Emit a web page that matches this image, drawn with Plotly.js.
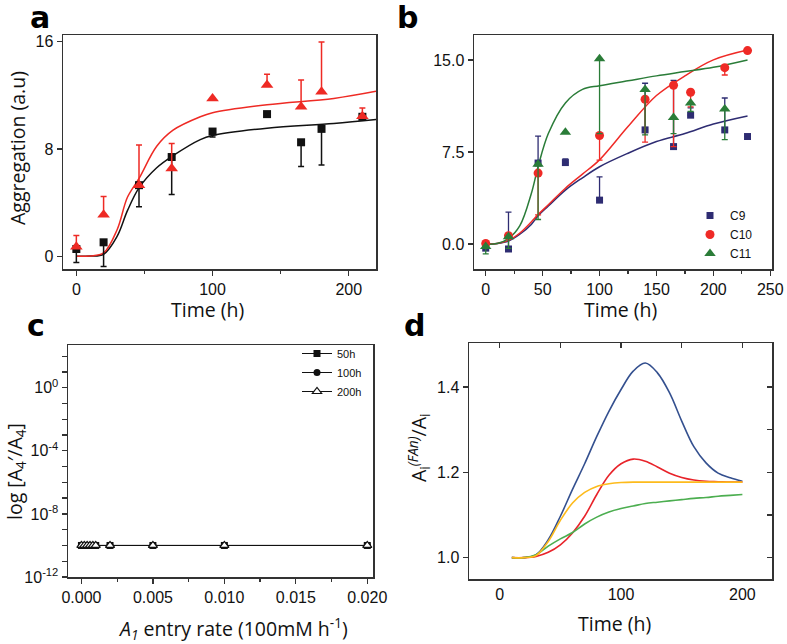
<!DOCTYPE html>
<html>
<head>
<meta charset="utf-8">
<script src="https://cdn.plot.ly/plotly-3.0.1.min.js"></script>
<style>html,body{margin:0;padding:0;background:#fff;}#chart{width:787px;height:644px;}</style>
</head>
<body>
<div id="chart"></div>
<script>
// ---------- Panel a ----------
const aTime = [0, 20, 46, 70, 100, 140, 165, 180, 210];
const aBlack = [0.54, 1.04, 5.3, 7.4, 9.3, 10.6, 8.5, 9.5, 10.4];
const aBlackErr = [1.0, 1.8, 1.6, 2.8, 0.4, 0, 1.8, 2.7, 0.2];
const aRed = [0.7, 3.1, 5.3, 6.55, 11.77, 12.77, 11.15, 12.27, 10.45];
const aRedErr = [0.85, 1.35, 3.0, 1.85, 0, 0.8, 2.0, 3.7, 0.6];
const aFitTime = [0, 10, 20, 30, 37.5, 46, 59, 71, 91, 100, 140, 189, 220];
const aFitBlack = [0, 0.02, 0.15, 1.5, 3.4, 5.1, 6.6, 7.5, 8.7, 9.0, 9.55, 9.9, 10.2];
const aFitRed = [0, 0.02, 0.25, 2.0, 4.4, 5.8, 8.2, 9.4, 10.4, 10.7, 11.3, 11.77, 12.3];

// ---------- Panel b ----------
const bTime9 = [0, 20, 46, 70, 100, 140, 165, 180, 210, 230];
const bC9 = [-0.33, -0.4, 6.6, 6.64, 3.58, 9.3, 7.94, 10.5, 9.3, 8.76];
const bC9Err = [0.3, 3.0, 2.2, 0.3, 1.9, 3.8, 5.4, 0.6, 2.6, 0];
const bTime10 = [0, 20, 46, 100, 140, 165, 180, 210, 230];
const bC10 = [0.05, 0.68, 5.78, 8.84, 11.8, 12.94, 12.37, 14.37, 15.76];
const bC10Err = [0, 0, 3.4, 2.0, 3.5, 5.0, 1.2, 0.6, 0];
const bTime11 = [0, 20, 46, 70, 100, 140, 165, 180, 210];
const bC11 = [-0.2, 0.6, 6.5, 9.1, 15.1, 12.6, 10.3, 11.5, 11.0];
const bC11Err = [0.6, 0.95, 4.5, 0, 6.1, 3.7, 1.3, 0.7, 2.5];
const bFitTime = [0, 10, 20, 30, 40, 46, 55, 70, 85, 100, 125, 150, 175, 200, 230];
const bFitC9 = [0, 0.05, 0.25, 0.8, 1.6, 2.3, 3.1, 4.4, 5.4, 6.3, 7.4, 8.35, 9.0, 9.78, 10.44];
const bFitC10 = [0, 0.05, 0.3, 0.9, 1.8, 2.4, 3.2, 4.55, 5.7, 6.86, 9.57, 12.1, 13.7, 15.0, 15.8];
const bFitC11 = [0, 0.05, 0.45, 1.5, 4.1, 6.3, 9.0, 11.5, 12.6, 12.9, 13.3, 13.7, 14.05, 14.4, 15.0];
const bNames = ['C9', 'C10', 'C11'];

// ---------- Panel c ----------
const cRate = [0, 0.0002, 0.0004, 0.0006, 0.0008, 0.001, 0.002, 0.005, 0.01, 0.02];
const c50h = [1e-10, 1e-10, 1e-10, 1e-10, 1e-10, 1e-10, 1e-10, 1e-10, 1e-10, 1e-10];
const c100h = [1e-10, 1e-10, 1e-10, 1e-10, 1e-10, 1e-10, 1e-10, 1e-10, 1e-10, 1e-10];
const c200h = [1e-10, 1e-10, 1e-10, 1e-10, 1e-10, 1e-10, 1e-10, 1e-10, 1e-10, 1e-10];
const cNames = ['50h', '100h', '200h'];
const cTickVals = [1e-12, 1e-8, 1e-4, 1];
const cTickText = ['10<sup>-12</sup>', '10<sup>-8</sup>', '10<sup>-4</sup>', '10<sup>0</sup>'];
const cMinorVals = [1e-11, 1e-10, 1e-9, 1e-7, 1e-6, 1e-5, 1e-3, 1e-2, 1e-1, 10, 100];
const cXTicks = [0, 0.005, 0.01, 0.015, 0.02];
const cXText = ['0.000', '0.005', '0.010', '0.015', '0.020'];

// ---------- Panel d ----------
const dTime = [10, 20, 30, 40, 50, 60, 70, 80, 90, 100, 110, 120, 130, 140, 150, 160, 170, 180, 190, 200];
const dBlue = [1.0, 1.0, 1.007, 1.042, 1.097, 1.16, 1.22, 1.284, 1.343, 1.394, 1.437, 1.456, 1.433, 1.386, 1.32, 1.26, 1.222, 1.198, 1.187, 1.179];
const dRed = [1.0, 1.0, 1.003, 1.0125, 1.03, 1.058, 1.097, 1.148, 1.193, 1.22, 1.231, 1.226, 1.2125, 1.198, 1.188, 1.182, 1.179, 1.178, 1.177, 1.177];
const dYellow = [1.0, 1.0, 1.005, 1.038, 1.0875, 1.128, 1.153, 1.167, 1.173, 1.176, 1.177, 1.177, 1.177, 1.177, 1.177, 1.177, 1.177, 1.177, 1.177, 1.177];
const dGreen = [1.0, 1.0, 1.007, 1.027, 1.044, 1.059, 1.079, 1.095, 1.107, 1.115, 1.121, 1.127, 1.130, 1.133, 1.136, 1.139, 1.141, 1.144, 1.146, 1.148];

const W = 787, H = 644;
const px = v => v / W;
const py = v => 1 - v / H;
const zeros = n => new Array(n).fill(0);

const TICKFONT = {family: 'Liberation Sans, Arial, sans-serif', size: 16, color: '#111'};
const TITLEFONT = {family: 'Open Sans, sans-serif', size: 19.5, color: '#111'};
const LETTERFONT = {family: 'DejaVu Sans, sans-serif', size: 30, color: '#000'};
const FRAME = '#333';

const traces = [];
// Panel a
traces.push({x: aFitTime, y: aFitBlack, xaxis: 'x', yaxis: 'y', mode: 'lines', line: {color: '#111', width: 1.5, shape: 'spline'}, showlegend: false, hoverinfo: 'skip'});
traces.push({x: aFitTime, y: aFitRed, xaxis: 'x', yaxis: 'y', mode: 'lines', line: {color: '#ee2a24', width: 1.5, shape: 'spline'}, showlegend: false, hoverinfo: 'skip'});
traces.push({x: aTime, y: aBlack, xaxis: 'x', yaxis: 'y', mode: 'markers', marker: {symbol: 'square', size: 8, color: '#111'},
  error_y: {type: 'data', symmetric: false, array: zeros(aTime.length), arrayminus: aBlackErr, color: '#111', thickness: 1.5, width: 3}, showlegend: false});
traces.push({x: aTime, y: aRed, xaxis: 'x', yaxis: 'y', mode: 'markers', marker: {symbol: 'triangle-up', size: 11, color: '#ee2a24'},
  error_y: {type: 'data', symmetric: false, array: aRedErr, arrayminus: zeros(aTime.length), color: '#ee2a24', thickness: 1.5, width: 3}, showlegend: false});

// Panel b
const bCols = ['#2e2c72', '#ef2a26', '#2a7c38'];
traces.push({x: bFitTime, y: bFitC9, xaxis: 'x2', yaxis: 'y2', mode: 'lines', line: {color: bCols[0], width: 1.5, shape: 'spline'}, showlegend: false, hoverinfo: 'skip'});
traces.push({x: bFitTime, y: bFitC10, xaxis: 'x2', yaxis: 'y2', mode: 'lines', line: {color: bCols[1], width: 1.5, shape: 'spline'}, showlegend: false, hoverinfo: 'skip'});
traces.push({x: bFitTime, y: bFitC11, xaxis: 'x2', yaxis: 'y2', mode: 'lines', line: {color: bCols[2], width: 1.5, shape: 'spline'}, showlegend: false, hoverinfo: 'skip'});
traces.push({x: bTime9, y: bC9, name: bNames[0], xaxis: 'x2', yaxis: 'y2', mode: 'markers', marker: {symbol: 'square', size: 7, color: bCols[0]},
  error_y: {type: 'data', symmetric: false, array: bC9Err, arrayminus: zeros(bTime9.length), color: bCols[0], thickness: 1.3, width: 3}, legend: 'legend'});
traces.push({x: bTime10, y: bC10, name: bNames[1], xaxis: 'x2', yaxis: 'y2', mode: 'markers', marker: {symbol: 'circle', size: 9, color: bCols[1]},
  error_y: {type: 'data', symmetric: false, array: zeros(bTime10.length), arrayminus: bC10Err, color: bCols[1], thickness: 1.3, width: 3}, legend: 'legend'});
traces.push({x: bTime11, y: bC11, name: bNames[2], xaxis: 'x2', yaxis: 'y2', mode: 'markers', marker: {symbol: 'triangle-up', size: 10, color: bCols[2]},
  error_y: {type: 'data', symmetric: false, array: zeros(bTime11.length), arrayminus: bC11Err, color: bCols[2], thickness: 1.3, width: 3}, legend: 'legend'});

// Panel c
traces.push({x: cRate, y: c50h, name: cNames[0], xaxis: 'x3', yaxis: 'y3', mode: 'lines+markers', line: {color: '#111', width: 1}, marker: {symbol: 'square', size: 7, color: '#111'}, legend: 'legend2'});
traces.push({x: cRate, y: c100h, name: cNames[1], xaxis: 'x3', yaxis: 'y3', mode: 'lines+markers', line: {color: '#111', width: 1}, marker: {symbol: 'circle', size: 7, color: '#111'}, legend: 'legend2'});
traces.push({x: cRate, y: c200h, name: cNames[2], xaxis: 'x3', yaxis: 'y3', mode: 'lines+markers', line: {color: '#111', width: 1}, marker: {symbol: 'triangle-up', size: 8, color: '#fff', line: {color: '#111', width: 1.2}}, legend: 'legend2'});

// Panel d
traces.push({x: dTime, y: dBlue, xaxis: 'x4', yaxis: 'y4', mode: 'lines', line: {color: '#34508f', width: 1.6, shape: 'spline'}, showlegend: false});
traces.push({x: dTime, y: dRed, xaxis: 'x4', yaxis: 'y4', mode: 'lines', line: {color: '#e8232a', width: 1.6, shape: 'spline'}, showlegend: false});
traces.push({x: dTime, y: dGreen, xaxis: 'x4', yaxis: 'y4', mode: 'lines', line: {color: '#4cae50', width: 1.6, shape: 'spline'}, showlegend: false});
traces.push({x: dTime, y: dYellow, xaxis: 'x4', yaxis: 'y4', mode: 'lines', line: {color: '#fdbb1c', width: 1.6, shape: 'spline'}, showlegend: false});
// empty traces to activate mirror-tick overlay axes of panel d
traces.push({x: [], y: [], xaxis: 'x5', yaxis: 'y4', mode: 'lines', showlegend: false, hoverinfo: 'skip'});
traces.push({x: [], y: [], xaxis: 'x4', yaxis: 'y5', mode: 'lines', showlegend: false, hoverinfo: 'skip'});

const baseAx = {showline: true, linecolor: FRAME, linewidth: 1.5, mirror: true, showgrid: false, zeroline: false,
  ticks: 'outside', ticklen: 5, tickwidth: 1.3, tickcolor: FRAME, tickfont: TICKFONT, fixedrange: true};

const letter = (t, x, yBottom) => ({text: '<b>' + t + '</b>', x: px(x), y: py(yBottom), xref: 'paper', yref: 'paper',
  xanchor: 'left', yanchor: 'bottom', borderpad: 0, showarrow: false, font: LETTERFONT});

const layout = {
  width: W, height: H,
  margin: {l: 0, r: 0, t: 0, b: 0},
  paper_bgcolor: '#fff', plot_bgcolor: '#fff',
  showlegend: true,
  // Panel a
  xaxis: Object.assign({}, baseAx, {domain: [px(63), px(376)], anchor: 'y', range: [-9.8, 220], tickmode: 'array', tickvals: [0, 100, 200],
    minor: {tickvals: [50, 150], ticks: 'outside', ticklen: 3, tickcolor: FRAME}}),
  yaxis: Object.assign({}, baseAx, {domain: [py(269), py(35)], anchor: 'x', range: [-0.95, 16.5], tickmode: 'array', tickvals: [0, 8, 16]}),
  // Panel b
  xaxis2: Object.assign({}, baseAx, {domain: [px(474), px(772)], anchor: 'y2', range: [-10.3, 251.5], tickmode: 'array', tickvals: [0, 50, 100, 150, 200, 250],
    minor: {tickvals: [25, 75, 125, 175, 225], ticks: 'outside', ticklen: 3, tickcolor: FRAME}}),
  yaxis2: Object.assign({}, baseAx, {domain: [py(269), py(35)], anchor: 'x2', range: [-2.03, 17.03], tickmode: 'array', tickvals: [0, 7.5, 15], ticktext: ['0.0', '7.5', '15.0']}),
  // Panel c
  xaxis3: Object.assign({}, baseAx, {domain: [px(68), px(373)], anchor: 'y3', range: [-0.00094, 0.0204], tickmode: 'array', tickvals: cXTicks, ticktext: cXText,
    minor: {tickvals: [0.0025, 0.0075, 0.0125, 0.0175], ticks: 'outside', ticklen: 3, tickcolor: FRAME}}),
  yaxis3: Object.assign({}, baseAx, {domain: [py(577), py(345)], anchor: 'x3', type: 'log', range: [-12, 2.71], tickmode: 'array', tickvals: cTickVals, ticktext: cTickText, ticklen: 5,
    minor: {tickvals: cMinorVals, ticks: 'outside', ticklen: 5, tickwidth: 1.3, tickcolor: FRAME}}),
  // Panel d
  xaxis4: Object.assign({}, baseAx, {domain: [px(469), px(772)], anchor: 'y4', range: [-25.3, 224.4], tickmode: 'array', tickvals: [0, 100, 200], ticks: ''}),
  yaxis4: Object.assign({}, baseAx, {domain: [py(579), py(343)], anchor: 'x4', range: [0.95, 1.503], tickmode: 'array', tickvals: [1.0, 1.2, 1.4], ticktext: ['1.0', '1.2', '1.4']}),
  xaxis5: {overlaying: 'x4', anchor: 'y4', side: 'top', range: [-25.3, 224.4], tickmode: 'array', tickvals: [0, 50, 100, 150, 200], ticks: 'inside', ticklen: 5, tickwidth: 1.3, tickcolor: FRAME,
    showticklabels: false, showline: false, showgrid: false, zeroline: false, fixedrange: true},
  yaxis5: {overlaying: 'y4', anchor: 'x4', side: 'right', range: [0.95, 1.503], tickmode: 'array', tickvals: [1.0, 1.1, 1.2, 1.3, 1.4], ticks: 'inside', ticklen: 5, tickwidth: 1.3, tickcolor: FRAME,
    showticklabels: false, showline: false, showgrid: false, zeroline: false, fixedrange: true},
  legend: {x: px(690), y: py(201), xanchor: 'left', yanchor: 'top', bgcolor: 'rgba(0,0,0,0)', borderwidth: 0,
    font: {family: 'Liberation Sans, Arial, sans-serif', size: 12, color: '#111'}, itemwidth: 30, tracegroupgap: 0},
  legend2: {x: px(297), y: py(339), xanchor: 'left', yanchor: 'top', bgcolor: 'rgba(0,0,0,0)', borderwidth: 0,
    font: {family: 'Liberation Sans, Arial, sans-serif', size: 11, color: '#111'}, itemwidth: 30, tracegroupgap: 0},
  annotations: [
    letter('a', 29, 36),
    letter('b', 396, 36),
    letter('c', 26, 344),
    letter('d', 403, 344),
    {text: 'Time (h)', x: px(207), y: py(309), xref: 'paper', yref: 'paper', xanchor: 'center', yanchor: 'middle', showarrow: false, font: TITLEFONT},
    {text: 'Aggregation (a.u)', x: px(17), y: py(148), xref: 'paper', yref: 'paper', xanchor: 'center', yanchor: 'middle', textangle: -90, showarrow: false, font: TITLEFONT},
    {text: 'Time (h)', x: px(620), y: py(309), xref: 'paper', yref: 'paper', xanchor: 'center', yanchor: 'middle', showarrow: false, font: TITLEFONT},
    {text: '<i>A<sub>1</sub></i> entry rate (100mM h<sup>-1</sup>)', x: px(233), y: py(628), xref: 'paper', yref: 'paper', xanchor: 'center', yanchor: 'middle', showarrow: false, font: TITLEFONT},
    {text: 'log [A<sub>4</sub>′/A<sub>4</sub>]', x: px(15), y: py(472), xref: 'paper', yref: 'paper', xanchor: 'center', yanchor: 'middle', textangle: -90, showarrow: false, font: TITLEFONT},
    {text: 'Time (h)', x: px(614), y: py(623), xref: 'paper', yref: 'paper', xanchor: 'center', yanchor: 'middle', showarrow: false, font: TITLEFONT},
    {text: 'A<sub>i</sub><sup><i>(FAn)</i></sup>/A<sub>i</sub>', x: px(418), y: py(447), xref: 'paper', yref: 'paper', xanchor: 'center', yanchor: 'middle', textangle: -90, showarrow: false, font: TITLEFONT}
  ]
};

Plotly.newPlot('chart', traces, layout, {staticPlot: true, displayModeBar: false});
</script>
</body>
</html>
